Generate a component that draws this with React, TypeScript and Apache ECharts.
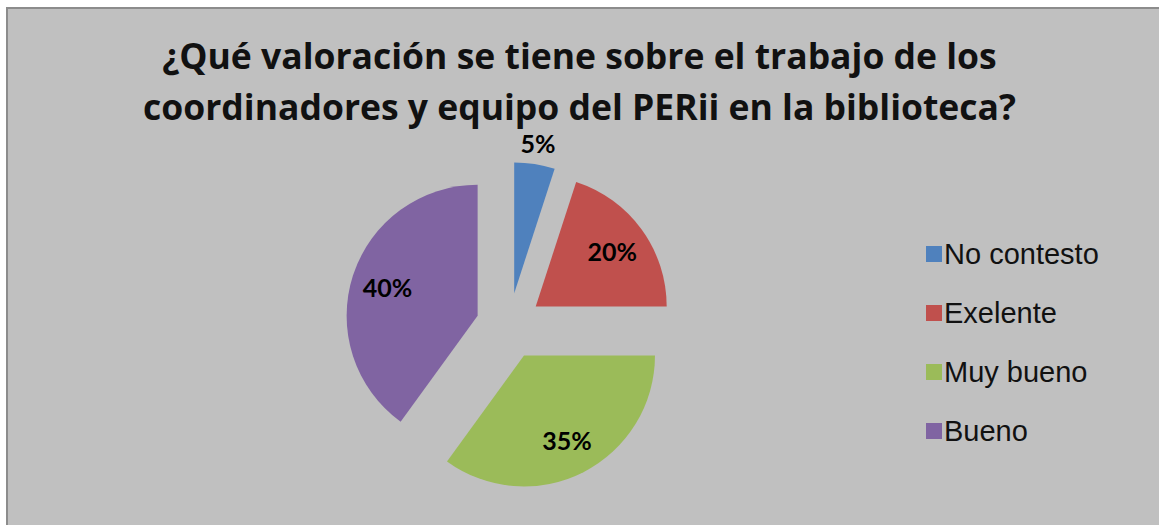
import React, { useEffect, useRef } from "react";
import * as echarts from "echarts";

const titleLines = [
  "¿Qué valoración se tiene sobre el trabajo de los",
  "coordinadores y equipo del PERii en la biblioteca?",
];
const categories = ["No contesto", "Exelente", "Muy bueno", "Bueno"];
const values = [5, 20, 35, 40];
const colors = ["#4f81bd", "#c0504d", "#9bbb59", "#8064a2"];

export default function App() {
  const ref = useRef<HTMLDivElement>(null);
  useEffect(() => {
    if (!ref.current) return;
    const chart = echarts.init(ref.current, null, { renderer: "svg" });
    const center = [509, 326];
    const R = 131;
    const offset = 33;
    const baseData = categories.map((name, i) => ({
      name,
      value: values[i],
      selected: true,
      itemStyle: { color: colors[i] },
    }));
    const labelFmt = (p: any) => `${Math.round(p.percent)}%`;
    const labelStyle = {
      color: "#000",
      fontFamily: "Lato",
      fontWeight: "bold" as const,
      fontSize: 25,
    };
    chart.setOption({
      animation: false,
      backgroundColor: "#ffffff",
      graphic: [
        {
          type: "rect",
          z: -10,
          shape: { x: 7, y: 8, width: 1160, height: 530 },
          style: { fill: "#c0c0c0", stroke: "#8c8c8c", lineWidth: 2 },
        },
      ],
      title: {
        text: titleLines.join("\n"),
        left: "center",
        top: 24,
        textStyle: {
          fontFamily: "Open Sans",
          fontWeight: "bold",
          fontSize: 35.5,
          lineHeight: 51,
          color: "#111",
        },
      },
      legend: {
        orient: "vertical",
        left: 921,
        top: 233,
        itemWidth: 16,
        itemHeight: 16,
        itemGap: 27,
        icon: "rect",
        selectedMode: false,
        data: categories.map((name, i) => ({ name, itemStyle: { color: colors[i] } })),
        textStyle: {
          fontFamily: "Liberation Sans",
          fontSize: 29,
          lineHeight: 32,
          color: "#111",
          padding: [0, 0, 0, -3],
        },
      },
      series: [
        {
          type: "pie",
          center,
          radius: [0, R],
          startAngle: 90,
          clockwise: true,
          selectedMode: "multiple",
          selectedOffset: offset,
          silent: true,
          label: { show: false },
          labelLine: { show: false },
          data: baseData,
        },
        {
          type: "pie",
          center,
          radius: [R * 0.4, R],
          startAngle: 90,
          clockwise: true,
          selectedMode: "multiple",
          selectedOffset: offset,
          silent: true,
          itemStyle: { color: "rgba(0,0,0,0)" },
          label: { show: true, position: "inside", formatter: labelFmt, ...labelStyle },
          labelLine: { show: false },
          data: categories.map((name, i) => ({
            name,
            value: values[i],
            selected: true,
            itemStyle: { color: "rgba(0,0,0,0)" },
            label: { show: i !== 0 },
          })),
        },
        {
          type: "pie",
          center,
          radius: [R, R * 1.28],
          startAngle: 90,
          clockwise: true,
          selectedMode: "multiple",
          selectedOffset: offset,
          silent: true,
          itemStyle: { color: "rgba(0,0,0,0)" },
          label: { show: true, position: "inside", formatter: labelFmt, ...labelStyle },
          labelLine: { show: false },
          data: categories.map((name, i) => ({
            name,
            value: values[i],
            selected: true,
            itemStyle: { color: "rgba(0,0,0,0)" },
            label: { show: i === 0 },
          })),
        },
      ],
    });
    return () => chart.dispose();
  }, []);
  return (
    <div
      ref={ref}
      style={{ position: "fixed", left: 0, top: 0, width: 1159, height: 525 }}
    />
  );
}
